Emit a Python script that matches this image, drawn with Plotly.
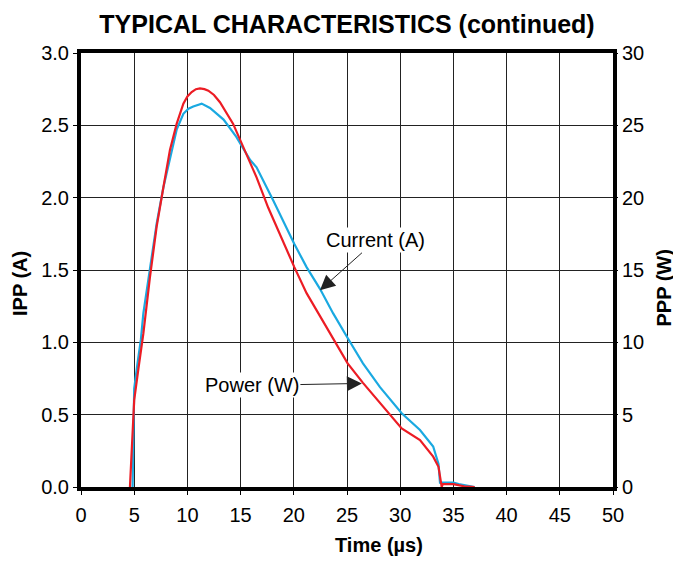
import plotly.graph_objects as go

# Current (A) trace
t_current = [4.85, 4.95, 5.0, 5.3, 5.63, 5.86, 6.48, 7.11, 7.74, 8.36, 8.99, 9.62,
             10.1, 10.55, 11.34, 12.12, 12.8, 13.4, 14.6, 15.9, 16.5, 17.76, 18.07,
             20.05, 21.2, 22.46, 23.7, 25.06, 26.5, 28.1, 30.14, 31.86, 33.1, 33.6,
             33.74, 34.0, 35.0, 35.5, 36.5, 37.0]
i_current = [0.0, 0.55, 0.68, 0.85, 1.02, 1.20, 1.52, 1.82, 2.07, 2.28, 2.47, 2.58,
             2.615, 2.63, 2.65, 2.62, 2.58, 2.54, 2.42, 2.26, 2.21, 2.03, 1.98,
             1.68, 1.52, 1.37, 1.20, 1.03, 0.855, 0.69, 0.51, 0.394, 0.28, 0.16,
             0.03, 0.03, 0.03, 0.02, 0.01, 0.0]

# Power (W) trace
t_power = [4.6, 4.9, 5.0, 5.4, 5.86, 6.48, 7.11, 7.74, 8.36, 8.99, 9.62, 10.0, 10.4,
           10.8, 11.18, 11.6, 11.97, 12.5, 13.06, 14.3, 15.25, 16.5, 17.6, 18.07,
           20.05, 21.2, 22.46, 23.7, 25.06, 26.5, 28.1, 30.14, 31.86, 33.1, 33.6,
           33.9, 34.0, 35.0, 36.0, 37.0]
p_power = [0.0, 4.6, 6.0, 8.2, 10.6, 14.5, 18.0, 20.7, 23.3, 25.1, 26.5, 27.0, 27.3,
           27.5, 27.55, 27.5, 27.4, 27.1, 26.6, 25.1, 23.5, 21.4, 19.3, 18.5,
           15.2, 13.4, 11.8, 10.2, 8.55, 7.2, 5.8, 4.05, 3.25, 2.1, 1.4,
           0.0, 0.2, 0.2, 0.05, 0.0]

x_ticks = [0, 5, 10, 15, 20, 25, 30, 35, 40, 45, 50]
y_ticks = [0.0, 0.5, 1.0, 1.5, 2.0, 2.5, 3.0]
y2_ticks = [0, 5, 10, 15, 20, 25, 30]

BLUE = "#1aa9e1"
RED = "#ec1c24"
FONT = "Liberation Sans, Arial, sans-serif"

# page body has an 8px default margin, so the figure is sized to fit the window
W, H = 673, 548

fig = go.Figure()
fig.add_trace(go.Scatter(x=t_current, y=i_current, mode="lines", name="Current (A)",
                         line=dict(color=BLUE, width=2.2), yaxis="y"))
fig.add_trace(go.Scatter(x=t_power, y=p_power, mode="lines", name="Power (W)",
                         line=dict(color=RED, width=2.2), yaxis="y2"))

fig.update_layout(
    width=W, height=H,
    margin=dict(l=73, r=68, t=45, b=69, autoexpand=False),
    paper_bgcolor="white", plot_bgcolor="white",
    showlegend=False,
    font=dict(family=FONT, size=20, color="black"),
    title=dict(text="<b>TYPICAL CHARACTERISTICS (continued)</b>",
               font=dict(family=FONT, size=25, color="black"),
               x=0.5, xref="paper", xanchor="center",
               y=1 - 16 / H, yref="container", yanchor="middle"),
    xaxis=dict(range=[0, 50], tickvals=x_ticks, ticktext=[str(v) for v in x_ticks],
               showgrid=True, gridcolor="#222", gridwidth=1,
               showline=True, linecolor="black", linewidth=4, mirror=True,
               ticks="outside", ticklen=4, tickwidth=1, tickcolor="black",
               ticklabelstandoff=3,
               zeroline=False, layer="above traces"),
    yaxis=dict(range=[0, 3.0], tickvals=y_ticks, ticktext=[f"{v:.1f}" for v in y_ticks],
               showgrid=True, gridcolor="#222", gridwidth=1,
               showline=True, linecolor="black", linewidth=4, mirror=True,
               ticks="outside", ticklen=4, tickwidth=1, tickcolor="black",
               zeroline=False, layer="above traces"),
    yaxis2=dict(range=[0, 30], tickvals=y2_ticks, ticktext=[str(v) for v in y2_ticks],
                overlaying="y", side="right", showgrid=False, zeroline=False,
                showline=False,
                ticks="outside", ticklen=4, tickwidth=1, tickcolor="black"),
)

# axis titles
fig.add_annotation(text="<b>Time (µs)</b>", xref="paper", yref="paper",
                   x=0.56, y=-0.1336, xanchor="center", yanchor="middle",
                   showarrow=False, font=dict(size=20))
fig.add_annotation(text="<b>IPP (A)</b>", xref="paper", yref="paper",
                   x=-0.1147, y=0.47, xanchor="center", yanchor="middle",
                   textangle=-90, showarrow=False, font=dict(size=20))
fig.add_annotation(text="<b>PPP (W)</b>", xref="paper", yref="paper",
                   x=1.095, y=0.4585, xanchor="center", yanchor="middle",
                   textangle=-90, showarrow=False, font=dict(size=20))

# callouts
fig.add_annotation(x=22.46, y=1.36, xref="x", yref="y", text="Current (A)",
                   showarrow=True, ax=56, ay=-50, arrowhead=2, arrowsize=3,
                   arrowwidth=1, arrowcolor="#222", font=dict(size=20, color="black"),
                   bgcolor="white")
fig.add_annotation(x=26.4, y=7.16, xref="x", yref="y2", text="Power (W)",
                   showarrow=True, ax=-110, ay=2, arrowhead=2, arrowsize=3,
                   arrowwidth=1, arrowcolor="#222", font=dict(size=20, color="black"),
                   bgcolor="white")

fig.write_html("out.html")
